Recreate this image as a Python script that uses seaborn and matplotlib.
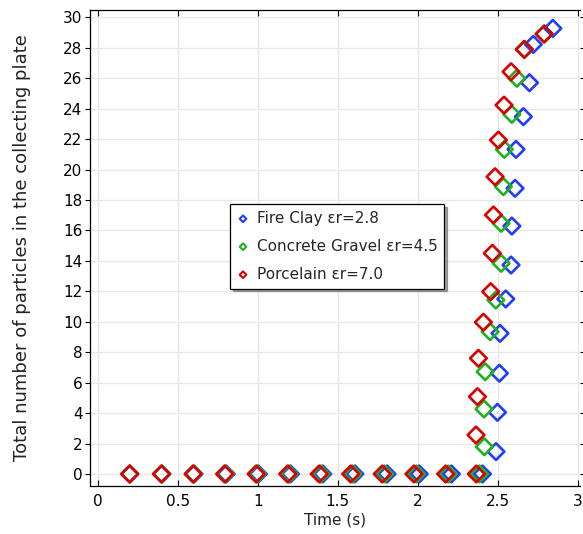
import matplotlib
matplotlib.use("Agg")
import matplotlib.pyplot as plt
import seaborn as sns
import numpy as np
import pandas as pd

# ---- data ----
labels = ["Fire Clay εr=2.8", "Concrete Gravel εr=4.5", "Porcelain εr=7.0"]
colors = ["#1f3cff", "#22b022", "#d90000"]

fc_t = [0.2, 0.401, 0.602, 0.803, 1.004, 1.205, 1.406, 1.607, 1.808, 2.009, 2.21, 2.404,
        2.489, 2.498, 2.51, 2.514, 2.55, 2.583, 2.588, 2.608, 2.614, 2.66, 2.698, 2.722, 2.844]
fc_n = [0, 0, 0, 0, 0, 0, 0, 0, 0, 0, 0, 0,
        1.47, 4.05, 6.62, 9.24, 11.5, 13.73, 16.29, 18.77, 21.33, 23.48, 25.71, 28.23, 29.28]

cg_t = [0.2, 0.4, 0.599, 0.798, 0.997, 1.196, 1.395, 1.594, 1.793, 1.992, 2.19, 2.385,
        2.416, 2.414, 2.421, 2.452, 2.488, 2.521, 2.521, 2.535, 2.541, 2.588, 2.619, 2.666, 2.79]
cg_n = [0, 0, 0, 0, 0, 0, 0, 0, 0, 0, 0, 0,
        1.79, 4.27, 6.72, 9.35, 11.43, 13.84, 16.47, 18.88, 21.33, 23.63, 26.0, 27.9, 28.91]

pc_t = [0.2, 0.398, 0.596, 0.793, 0.99, 1.187, 1.384, 1.581, 1.778, 1.976, 2.174, 2.366,
        2.364, 2.373, 2.379, 2.41, 2.456, 2.466, 2.473, 2.483, 2.504, 2.539, 2.583, 2.666, 2.79]
pc_n = [0, 0, 0, 0, 0, 0, 0, 0, 0, 0, 0, 0,
        2.56, 5.08, 7.6, 9.97, 11.98, 14.5, 17.02, 19.53, 21.94, 24.24, 26.43, 27.9, 28.91]

x_ticks = [0, 0.5, 1, 1.5, 2, 2.5, 3]
x_ticklabels = ["0", "0.5", "1", "1.5", "2", "2.5", "3"]
y_ticks = list(range(0, 31, 2))

series = [(fc_t, fc_n), (cg_t, cg_n), (pc_t, pc_n)]

sns.set_style("white")
plt.rcParams['font.family'] = ['DejaVu Sans']

fig = plt.figure(figsize=(5.83, 5.34), dpi=100)
ax = fig.add_axes([0.1544, 0.0899, 0.8405, 0.8923])

for (t, n), lab, col in zip(series, labels, colors):
    df = pd.DataFrame({"t": t, "n": n})
    sns.scatterplot(data=df, x="t", y="n", marker="D", s=72, ax=ax,
                    label=lab, zorder=3, clip_on=False)
    coll = ax.collections[-1]
    coll.set_facecolor("none")
    coll.set_edgecolor(col)
    coll.set_linewidth(1.9)

ax.set_xlim(-0.048, 3.014)
ax.set_ylim(-0.79, 30.52)
ax.set_xticks(x_ticks)
ax.set_xticklabels(x_ticklabels)
ax.set_yticks(y_ticks)
ax.grid(True, color="#e8e8e8", linewidth=1.0, zorder=0)
ax.set_axisbelow(True)

for side in ["left", "bottom", "top"]:
    ax.spines[side].set_visible(True)
    ax.spines[side].set_color("black")
    ax.spines[side].set_linewidth(0.9)
ax.spines["right"].set_visible(False)

ax.tick_params(axis="x", direction="in", length=4, width=0.8, labelsize=11,
               top=True, bottom=True, pad=6, colors="black")
ax.tick_params(axis="y", direction="out", length=3.5, width=0.8, labelsize=11,
               left=True, right=True, pad=2, colors="black")

ax.set_xlabel("Time (s)", fontsize=11, labelpad=2, color="#222222")
ax.set_ylabel("Total number of particles in the collecting plate", fontsize=13,
              labelpad=23, color="#222222")

leg = ax.legend(loc="upper left", bbox_to_anchor=(140 / 490, 0.592), borderaxespad=0,
                fontsize=11, frameon=True, fancybox=False, shadow=True,
                markerscale=0.4, handlelength=0.8, handletextpad=0.5,
                labelspacing=0.85, borderpad=0.45)
leg.get_frame().set_edgecolor("black")
leg.get_frame().set_linewidth(0.9)
for h, col in zip(leg.legend_handles, colors):
    h.set_facecolor("none")
    h.set_edgecolor(col)
    h.set_linewidth(1.5)

fig.savefig("out.png", dpi=100)
